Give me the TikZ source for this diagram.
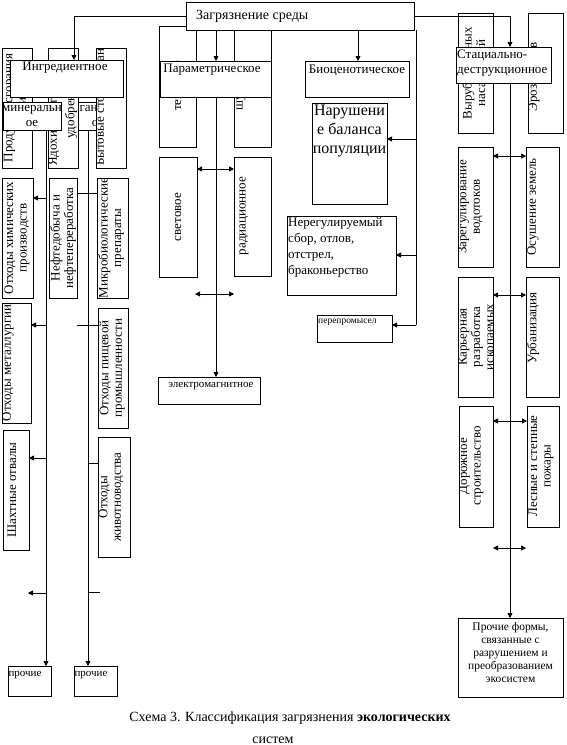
\documentclass[tikz,border=0pt]{standalone}
\usepackage{fontspec}
\setmainfont{Liberation Serif}
\usetikzlibrary{arrows.meta}
\newcommand\fs[2]{\fontsize{#1}{#2}\selectfont}
\newcommand\bx[5]{\node[bx, minimum width={(#4-#2)*1pt}, minimum height={(#5-#3)*1pt}] (#1) at ({(#2+#4)/2},{(#3+#5)/2}) {};}
\newcommand\clipin[2]{\begin{scope}\clip (#1.south west) rectangle (#1.north east); #2\end{scope}}
\begin{document}
\begin{tikzpicture}[x=1pt,y=-1pt,
  bx/.style={draw, fill=white, line width=0.8pt, inner sep=0pt, outer sep=0pt, rectangle},
  txt/.style={inner sep=0pt, font=\fs{13}{15}},
  rot/.style={inner sep=0pt, rotate=90, align=center, font=\fs{13}{13.5}},
  ln/.style={line width=0.8pt},
  arr/.style={ln, -{Triangle[length=5pt,width=5pt]}},
  darr/.style={ln, {Triangle[length=5pt,width=5pt]}-{Triangle[length=5pt,width=5pt]}}]
\useasboundingbox (0,0) rectangle (566,745);
% ---------- left group ----------
\bx{org}{62}{102}{124}{130}
\clipin{org}{\node[txt, align=center] at (98,116) {органическ\\ое};}
\bx{prod}{2}{48}{32}{168}
\clipin{prod}{\node[rot] at (15,108) {Продукты сгорания\\топлива};}
\bx{yad}{48}{48}{78}{168}
\clipin{yad}{\node[rot, anchor=west] at (54,166) {Ядохимикаты и}; \node[rot] at (71,110) {удобрения};}
\bx{byt}{96}{48}{126}{168}
\clipin{byt}{\node[rot, anchor=west] at (101,166) {Бытовые стоки органические};}
\bx{ingr}{10}{60}{123}{97}
\node[txt] at (65,68) {Ингредиентное};
\bx{min}{3}{102}{61}{130}
\node[txt, align=center] at (32,116) {минеральн\\ое};
\bx{otx}{2}{178}{33}{298}
\clipin{otx}{\node[rot] at (17,238) {Отходы химических\\производств};}
\bx{neft}{49}{178}{77}{298}
\clipin{neft}{\node[rot] at (63,238) {Нефтедобыча и\\нефтепереработка};}
\bx{mikr}{97}{178}{128}{298}
\clipin{mikr}{\node[rot] at (111,238) {Микробиологические\\препараты};}
\bx{met}{2}{303}{31}{423}
\clipin{met}{\node[rot] at (8,363) {Отходы металлургии};}
\bx{pish}{98}{308}{128}{428}
\clipin{pish}{\node[rot] at (112,368) {Отходы пищевой\\промышленности};}
\bx{shax}{3}{430}{29}{550}
\clipin{shax}{\node[rot] at (12,490) {Шахтные отвалы};}
\bx{jiv}{98}{437}{130}{557}
\clipin{jiv}{\node[rot] at (111,497) {Отходы\\животноводства};}
\bx{pr1}{8}{666}{51}{696}
\node[txt, font=\fs{11}{13}] at (25,675) {прочие};
\bx{pr2}{74}{666}{117}{696}
\node[txt, font=\fs{11}{13}] at (91,675) {прочие};
% ---------- middle group ----------
\bx{tep}{159}{26}{196}{147}
\clipin{tep}{\node[rot] at (178,86) {тепловое};}
\bx{shum}{234}{26}{271}{147}
\clipin{shum}{\node[rot] at (241,86) {шумовое};}
\bx{top}{186}{2}{414}{30}
\node[txt, font=\fs{14}{16}, anchor=west] at (196,16) {Загрязнение среды};
\bx{param}{160}{61}{271}{97}
\node[txt] at (212,70) {Параметрическое};
\bx{svet}{159}{157}{197}{277}
\node[rot] at (178,217) {световое};
\bx{rad}{234}{157}{271}{276}
\node[rot] at (244,216) {радиационное};
\bx{elek}{158}{377}{260}{404}
\node[txt, font=\fs{11}{13}] at (211,386) {электромагнитное};
\bx{bio}{305}{61}{409}{97}
\node[txt] at (357,70) {Биоценотическое};
\bx{nar}{312}{103}{387}{204}
\node[txt, font=\fs{16}{19}, align=center, anchor=north] at (349.5,105) {Нарушени\\е баланса\\популяции};
\bx{nereg}{287}{216}{396}{295}
\node[txt, align=left, anchor=north west, font=\fs{13}{16}] at (288,217) {Нерегулируемый\\сбор, отлов,\\отстрел,\\браконьерство};
\bx{perep}{317}{315}{392}{342}
\node[txt, font=\fs{9.5}{11}, anchor=west] at (318,322) {перепромысел};
% ---------- right group ----------
\bx{vyr}{458}{13}{493}{133}
\clipin{vyr}{\node[rot] at (475,73) {Вырубка лесных\\насаждений};}
\bx{eroz}{528}{13}{563}{133}
\clipin{eroz}{\node[rot] at (534,77) {Эрозия почв};}
\bx{stac}{456}{47}{551}{83}
\node[txt, align=left, anchor=north west] at (457,50) {Стациально-\\деструкционное};
\bx{zar}{458}{147}{493}{267}
\clipin{zar}{\node[rot] at (470,207) {Зарегулирование\\водотоков};}
\bx{osh}{526}{147}{559}{267}
\clipin{osh}{\node[rot] at (533,207) {Осушение земель};}
\bx{kar}{458}{277}{493}{397}
\clipin{kar}{\node[rot] at (476,337) {Карьерная\\разработка\\ископаемых};}
\bx{urb}{526}{277}{559}{397}
\clipin{urb}{\node[rot] at (533,328) {Урбанизация};}
\bx{dor}{459}{406}{493}{527}
\clipin{dor}{\node[rot] at (471,466) {Дорожное\\строительство};}
\bx{les}{527}{406}{559}{527}
\clipin{les}{\node[rot] at (541,466) {Лесные и степные\\пожары};}
\bx{pf}{458}{618}{563}{697}
\node[txt, font=\fs{11.5}{13}, align=center, anchor=north] at (510.5,622) {Прочие формы,\\связанные с\\разрушением и\\преобразованием\\экосистем};
% ---------- connectors ----------
\coordinate (c46) at (46,0);
\coordinate (c74) at (74,0);
\coordinate (c88) at (88,0);
\coordinate (c216) at (216,0);
\coordinate (c358) at (358,0);
\coordinate (c416) at (416,0);
\coordinate (c510) at (510,0);
\draw[arr] (top.west) -| (ingr.north -| c74);
\draw[arr] (top.east) -| (stac.north -| c510);
\draw[arr] (top.south -| c216) -- (param.north -| c216);
\draw[arr] (top.south -| c358) -- (bio.north -| c358);
\draw[arr] (param.south -| c216) -- (elek.north -| c216);
\draw[arr] (stac.south -| c510) -- (pf.north -| c510);
\draw[arr] (min.south -| c46) -- (pr1.north -| c46);
\draw[arr] (org.south -| c88) -- (pr2.north -| c88);
% branches of the left line
\coordinate (l1) at (46,198);
\coordinate (l2) at (46,325);
\coordinate (l3) at (46,458);
\coordinate (l4) at (46,593);
\coordinate (l4e) at (28,593);
\draw[arr] (l1) -- (otx.east |- l1);
\draw[arr] (l2) -- (met.east |- l2);
\draw[arr] (l3) -- (shax.east |- l3);
\draw[arr] (l4) -- (l4e);
% branches of the second line
\coordinate (r1) at (88,193);
\coordinate (r2s) at (77,325);
\coordinate (r2) at (88,325);
\coordinate (r3) at (88,463);
\coordinate (r4) at (88,592);
\coordinate (r4e) at (100,592);
\draw[ln] (neft.east |- r1) -- (mikr.west |- r1);
\draw[ln] (r2s) -- (pish.west |- r2);
\draw[ln] (r3) -- (jiv.west |- r3);
\draw[ln] (r4) -- (r4e);
% parametric double arrows
\coordinate (p1) at (216,169);
\coordinate (p2a) at (195,294);
\coordinate (p2b) at (234,294);
\draw[darr] (svet.east |- p1) -- (rad.west |- p1);
\draw[darr] (p2a) -- (p2b);
% biocenotic branch
\coordinate (q0) at (416,30);
\coordinate (q1) at (416,139);
\coordinate (q2) at (416,255);
\coordinate (q3) at (416,325);
\draw[ln] (q0) -- (q3);
\draw[arr] (q1) -- (nar.east |- q1);
\draw[arr] (q2) -- (nereg.east |- q2);
\draw[arr] (q3) -- (perep.east |- q3);
% right double arrows
\coordinate (s1) at (510,156);
\coordinate (s2) at (510,295);
\coordinate (s3) at (510,421);
\coordinate (s4a) at (493,548);
\coordinate (s4b) at (526,548);
\draw[darr] (zar.east |- s1) -- (osh.west |- s1);
\draw[darr] (kar.east |- s2) -- (urb.west |- s2);
\draw[darr] (dor.east |- s3) -- (les.west |- s3);
\draw[darr] (s4a) -- (s4b);
% caption
\node[txt, font=\fs{14}{16}] (cap1) at (290,718) {Схема 3. Классификация загрязнения \textbf{экологических}};
\node[txt, font=\fs{14}{16}] (cap2) at (273,740) {систем};
\end{tikzpicture}
\end{document}
